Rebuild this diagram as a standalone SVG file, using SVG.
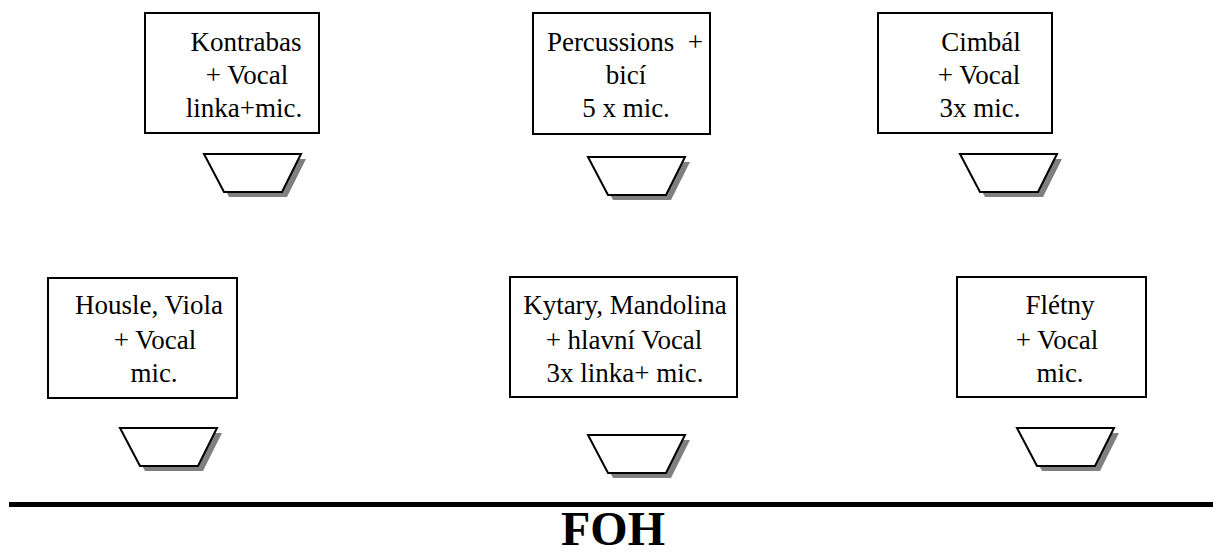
<svg xmlns="http://www.w3.org/2000/svg" width="1213" height="553" viewBox="0 0 1213 553">
<style>
.box{fill:#fff;stroke:#000;stroke-width:2}
.t{font-family:"Liberation Serif","Times New Roman",serif;font-size:27px;fill:#000;text-anchor:middle}
.foh{font-family:"Liberation Serif","Times New Roman",serif;font-size:48px;font-weight:bold;fill:#000;text-anchor:middle}
</style>
<defs>
<g id="mic">
<polygon points="5,5 102,5 83,43 25,43" fill="#808080"/>
<polygon points="0,0 97,0 78,38 20,38" fill="#fff" stroke="#000" stroke-width="2" stroke-linejoin="miter"/>
</g>
</defs>
<rect width="1213" height="553" fill="#fff"/>
<g id="node-kontrabas">
<rect class="box" x="145" y="13" width="174" height="120"/>
<text class="t" x="246" y="51">Kontrabas</text>
<text class="t" x="247" y="84">+ Vocal</text>
<text class="t" x="244" y="117">linka+mic.</text>
</g>
<g id="node-percussions">
<rect class="box" x="533" y="13" width="177" height="121"/>
<text class="t" x="625" y="51" xml:space="preserve">Percussions  +</text>
<text class="t" x="626" y="84">bicí</text>
<text class="t" x="626" y="117">5 x mic.</text>
</g>
<g id="node-cimbal">
<rect class="box" x="878" y="13" width="174" height="120"/>
<text class="t" x="981" y="51">Cimbál</text>
<text class="t" x="979" y="84">+ Vocal</text>
<text class="t" x="980" y="117">3x mic.</text>
</g>
<g id="node-housle">
<rect class="box" x="48" y="278" width="189" height="120"/>
<text class="t" x="149" y="314">Housle, Viola</text>
<text class="t" x="155" y="349">+ Vocal</text>
<text class="t" x="154" y="382">mic.</text>
</g>
<g id="node-kytary">
<rect class="box" x="510" y="277" width="227" height="120"/>
<text class="t" x="625" y="314">Kytary, Mandolina</text>
<text class="t" x="624" y="349">+ hlavní Vocal</text>
<text class="t" x="625" y="382">3x linka+ mic.</text>
</g>
<g id="node-fletny">
<rect class="box" x="957" y="277" width="189" height="120"/>
<text class="t" x="1060" y="314">Flétny</text>
<text class="t" x="1057" y="349">+ Vocal</text>
<text class="t" x="1060" y="382">mic.</text>
</g>
<g id="monitors">
<use href="#mic" x="204" y="154"/>
<use href="#mic" x="588" y="157"/>
<use href="#mic" x="960" y="154"/>
<use href="#mic" x="120" y="428"/>
<use href="#mic" x="588" y="435"/>
<use href="#mic" x="1017" y="428"/>
</g>
<g id="connectors"></g>
<g id="foh">
<rect x="9" y="502" width="1204" height="5" fill="#000"/>
<text class="foh" x="613" y="545">FOH</text>
</g>
</svg>
